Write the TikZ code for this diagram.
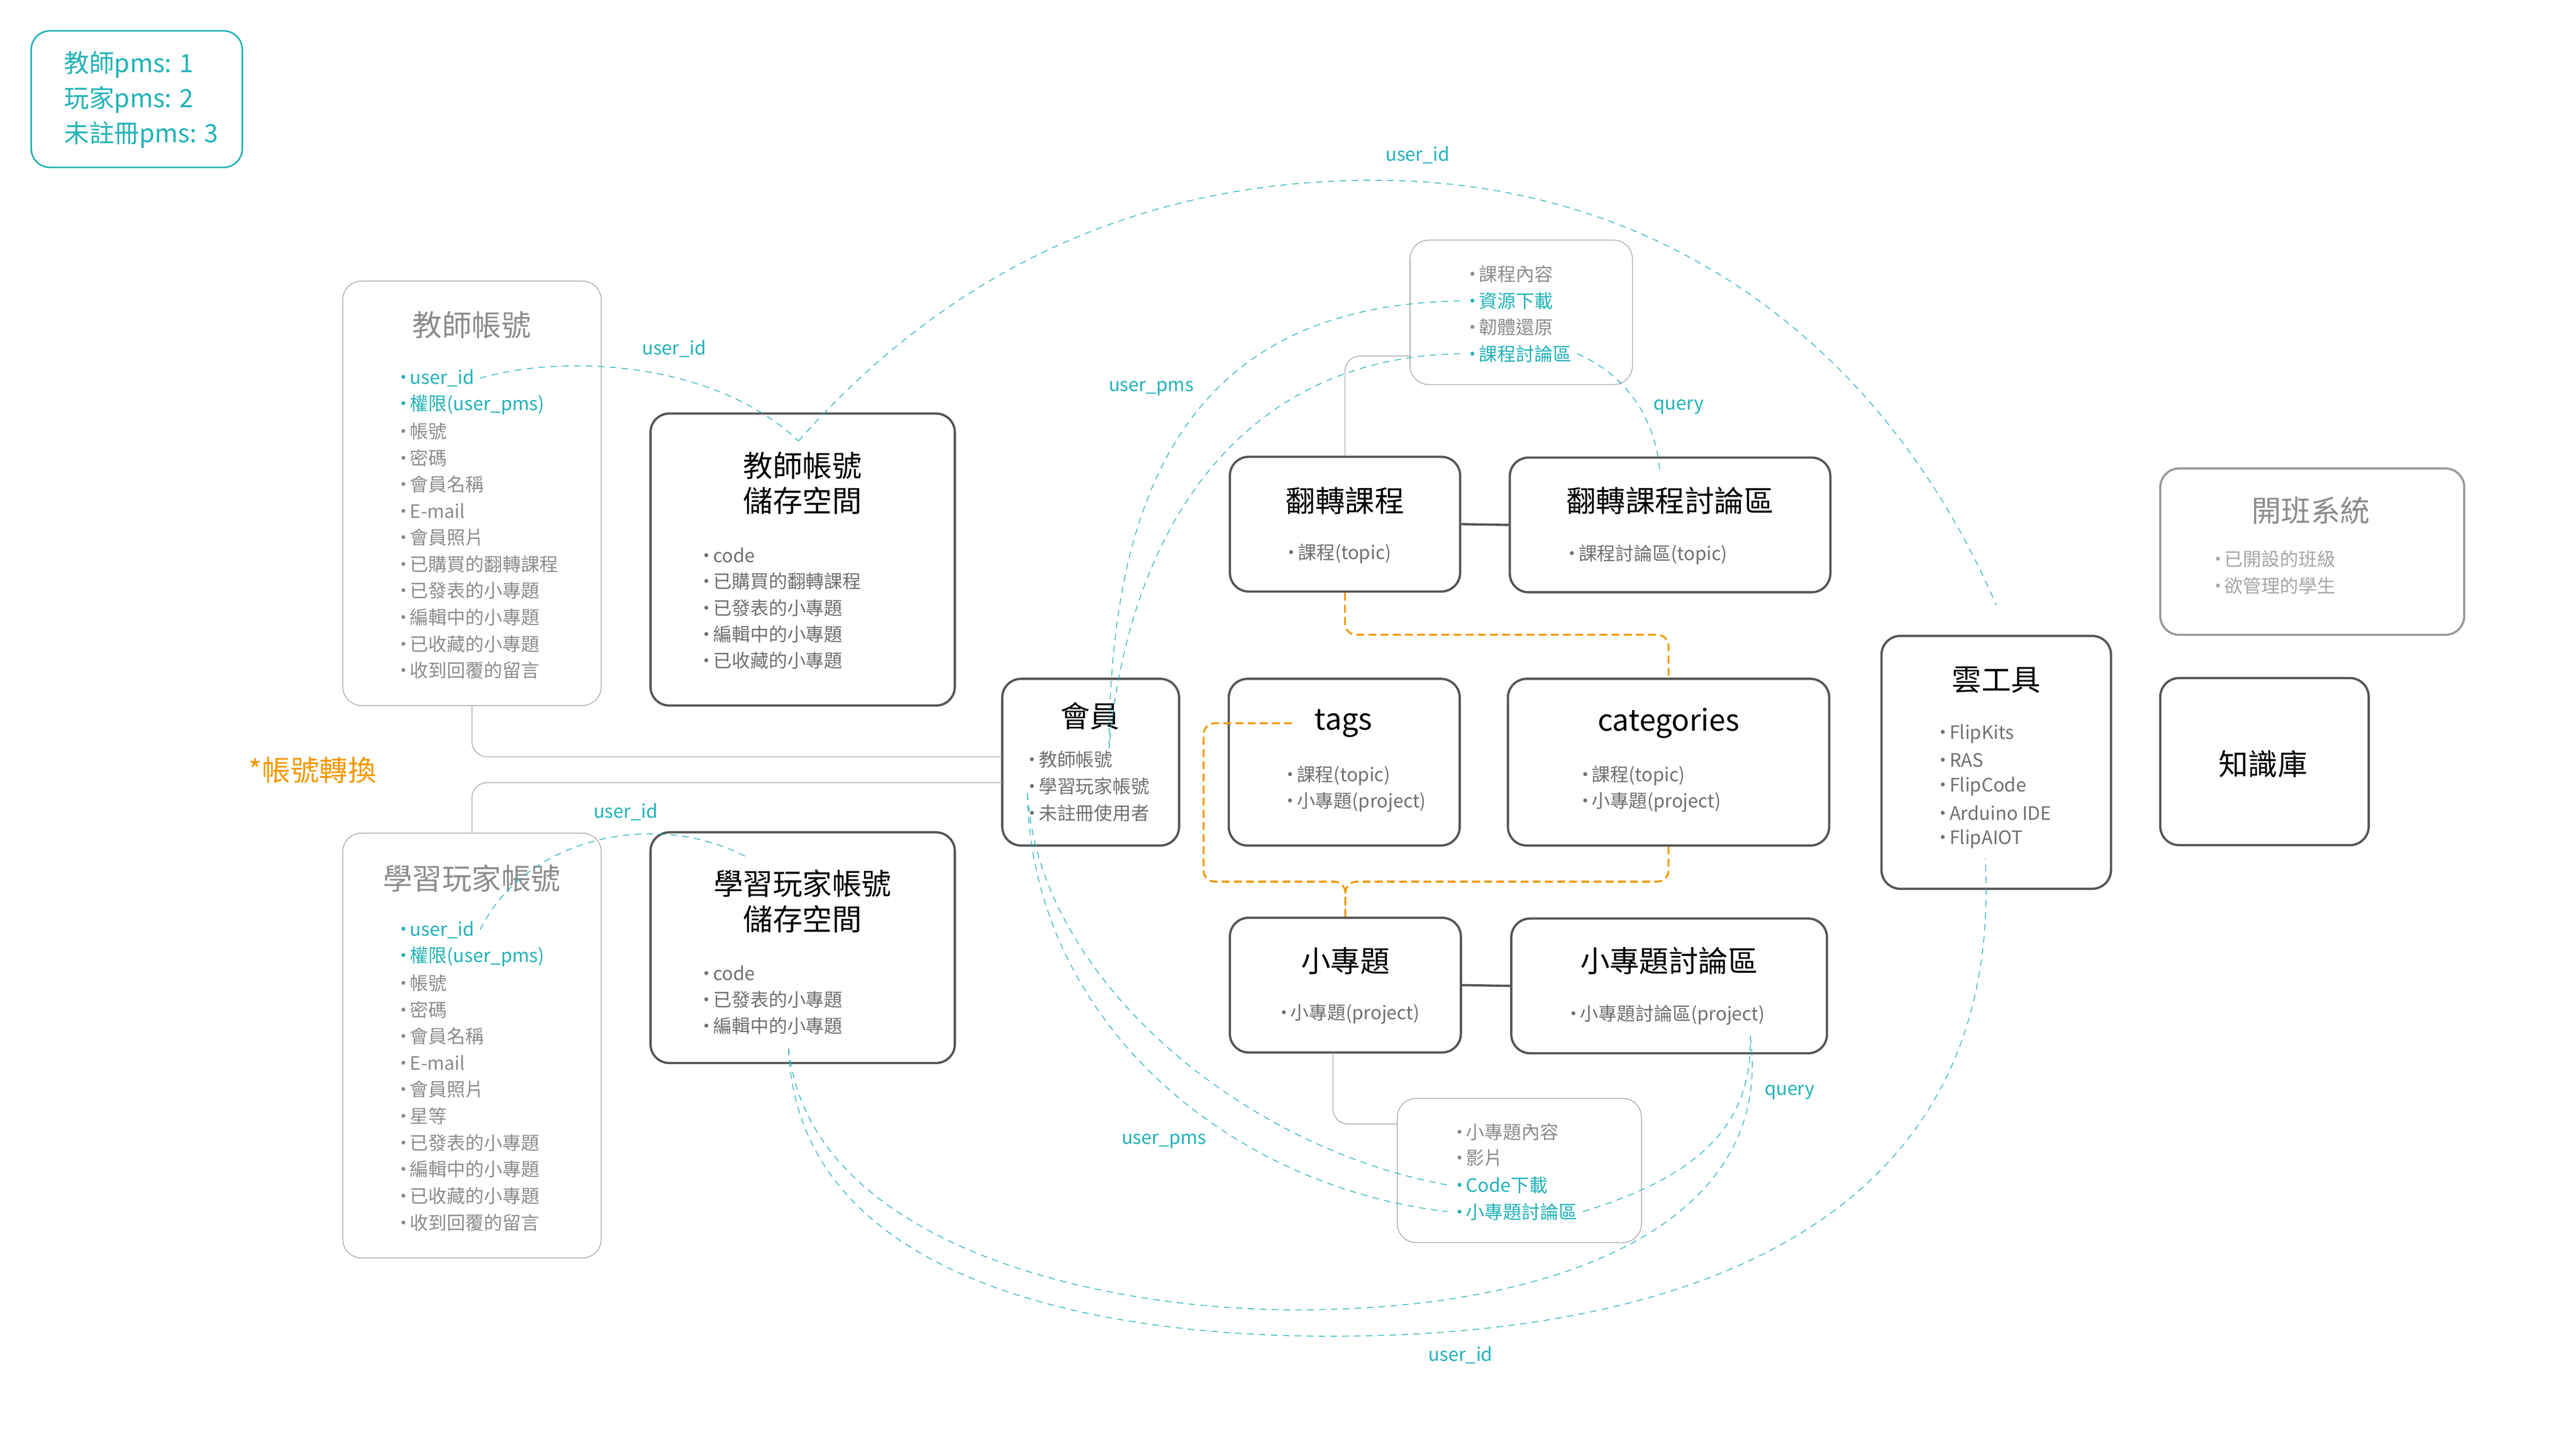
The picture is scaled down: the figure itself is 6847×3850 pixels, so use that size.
\documentclass[tikz,border=0pt]{standalone}
\usepackage{fontspec}
\setmainfont{Noto Sans CJK TC}
\usetikzlibrary{fit, calc}

\definecolor{linkteal}{RGB}{34,178,184}
\definecolor{boxdark}{RGB}{85,85,85}
\definecolor{boxgrey}{RGB}{170,170,170}
\definecolor{itemgrey}{RGB}{112,112,112}
\definecolor{softgrey}{RGB}{140,140,140}
\definecolor{palegrey}{RGB}{166,166,166}
\definecolor{tagorange}{RGB}{243,152,0}

\newcommand{\itemdot}{\makebox[0.7em]{·}}

\tikzset{
	darkbox/.style={draw=boxdark, line width=0.85pt, rounded corners=0.25cm, inner sep=0pt},
	greybox/.style={draw=boxgrey, line width=0.3pt, rounded corners=0.25cm, inner sep=0pt},
	classbox/.style={draw=boxgrey!90!black, line width=0.8pt, rounded corners=0.25cm, inner sep=0pt},
	legendbox/.style={draw=linkteal, line width=0.6pt, rounded corners=0.25cm, inner sep=0pt},
	boxtitle/.style={font=\fontsize{11.2}{13.3}\selectfont, align=center},
	item/.style={font=\fontsize{7}{9}\selectfont, text=itemgrey, anchor=west, inner sep=2pt, xshift=-0.1cm},
	idlabel/.style={font=\fontsize{7}{9}\selectfont, text=linkteal},
	idlink/.style={linkteal, line width=0.28pt, dash pattern=on 2.5pt off 2pt},
	greyline/.style={boxgrey, line width=0.3pt, rounded corners=0.2cm},
	boxline/.style={boxdark, line width=0.85pt},
	tagline/.style={tagorange, line width=0.7pt, dash pattern=on 3pt off 1.6pt, rounded corners=0.15cm}
}

\begin{document}
\begin{tikzpicture}[x=0.005cm, y=-0.005cm]
	\useasboundingbox (0,0) rectangle (6847,3850);

	% legend
	\node[legendbox, fit={(83,82) (644,445)}] (legend) {};
	\node[anchor=west, inner sep=0pt, align=left, text=linkteal, font=\fontsize{9.5}{13.2}\selectfont] (legendText) at (169,265) {教師pms: 1\\玩家pms: 2\\未註冊pms: 3};
	\node[anchor=west, inner sep=0pt, text=tagorange, font=\fontsize{10.8}{12}\selectfont] (switchNote) at (660,2047) {*帳號轉換};

	% teacher account
	\node[greybox, fit={(911,747) (1598,1875)}] (tBox) {};
	\node[boxtitle, text=softgrey] (tTitle) at (1254,864) {教師帳號};
	\node[item, text=linkteal] (tUid) at (1060,1005) {\itemdot user\_id};
	\node[item, text=linkteal] (tPms) at (1060,1076) {\itemdot 權限(user\_pms)};
	\foreach \t [count=\i from 2] in {帳號, 密碼, 會員名稱, E-mail, 會員照片, 已購買的翻轉課程, 已發表的小專題, 編輯中的小專題, 已收藏的小專題, 收到回覆的留言}
		\node[item, text=softgrey] (tItem\i) at (1060,{1005+70.6*\i}) {\itemdot\t};

	\node[darkbox, fit={(1729,1099) (2538,1875)}] (tsBox) {};
	\node[boxtitle] (tsTitle) at (2133,1284) {教師帳號\\儲存空間};
	\foreach \t [count=\i from 0] in {code, 已購買的翻轉課程, 已發表的小專題, 編輯中的小專題, 已收藏的小專題}
		\node[item] (tsItem\i) at (1866,{1475+70*\i}) {\itemdot\t};

	% player account
	\node[greybox, fit={(911,2214) (1598,3343)}] (pBox) {};
	\node[boxtitle, text=softgrey] (pTitle) at (1254,2335) {學習玩家帳號};
	\node[item, text=linkteal] (pUid) at (1060,2471) {\itemdot user\_id};
	\node[item, text=linkteal] (pPms) at (1060,2542) {\itemdot 權限(user\_pms)};
	\foreach \t [count=\i from 2] in {帳號, 密碼, 會員名稱, E-mail, 會員照片, 星等, 已發表的小專題, 編輯中的小專題, 已收藏的小專題, 收到回覆的留言}
		\node[item, text=softgrey] (pItem\i) at (1060,{2471+70.7*\i}) {\itemdot\t};

	\node[darkbox, fit={(1729,2212) (2538,2825)}] (psBox) {};
	\node[boxtitle] (psTitle) at (2133,2395) {學習玩家帳號\\儲存空間};
	\foreach \t [count=\i from 0] in {code, 已發表的小專題, 編輯中的小專題}
		\node[item] (psItem\i) at (1866,{2586+70*\i}) {\itemdot\t};

	% member
	\node[darkbox, fit={(2664,1804) (3134,2247)}] (member) {};
	\node[boxtitle] (mTitle) at (2897,1903) {會員};
	\foreach \t [count=\i from 0] in {教師帳號, 學習玩家帳號, 未註冊使用者}
		\node[item] (mItem\i) at (2731,{2019+71*\i}) {\itemdot\t};

	% course
	\node[greybox, fit={(3748,638) (4339,1022)}] (cBox) {};
	\node[item, text=softgrey] (cContent) at (3901,728) {\itemdot 課程內容};
	\node[item, text=linkteal] (cDl) at (3901,800) {\itemdot 資源下載};
	\node[item, text=softgrey] (cReset) at (3901,869) {\itemdot 韌體還原};
	\node[item, text=linkteal] (cDisc) at (3901,940) {\itemdot 課程討論區};

	\node[darkbox, fit={(3269,1214) (3881,1572)}] (flip) {};
	\node[boxtitle] (flipTitle) at (3575,1331) {翻轉課程};
	\node[item] (flipItem) at (3420,1472) {\itemdot 課程(topic)};
	\node[darkbox, fit={(4013,1216) (4865,1574)}] (flipDisc) {};
	\node[boxtitle] (flipDiscTitle) at (4439,1331) {翻轉課程討論區};
	\node[item] (flipDiscItem) at (4166,1474) {\itemdot 課程討論區(topic)};

	% tags, categories
	\node[darkbox, fit={(3266,1804) (3880,2247)}] (tags) {};
	\node[boxtitle] (tagsTitle) at (3571,1922) {tags};
	\node[item] (tagsItem0) at (3417,2061) {\itemdot 課程(topic)};
	\node[item] (tagsItem1) at (3417,2132) {\itemdot 小專題(project)};
	\node[darkbox, fit={(4008,1804) (4862,2247)}] (cat) {};
	\node[boxtitle] (catTitle) at (4435,1922) {categories};
	\node[item] (catItem0) at (4201,2061) {\itemdot 課程(topic)};
	\node[item] (catItem1) at (4201,2132) {\itemdot 小專題(project)};

	% project
	\node[darkbox, fit={(3269,2439) (3883,2797)}] (proj) {};
	\node[boxtitle] (projTitle) at (3576,2553) {小專題};
	\node[item] (projItem) at (3400,2694) {\itemdot 小專題(project)};
	\node[darkbox, fit={(4017,2441) (4856,2799)}] (projDisc) {};
	\node[boxtitle] (projDiscTitle) at (4436,2553) {小專題討論區};
	\node[item] (projDiscItem) at (4170,2697) {\itemdot 小專題討論區(project)};

	\node[greybox, fit={(3714,2919) (4363,3302)}] (pdBox) {};
	\node[item, text=softgrey] (pContent) at (3867,3008) {\itemdot 小專題內容};
	\node[item, text=softgrey] (pVideo) at (3867,3077) {\itemdot 影片};
	\node[item, text=linkteal] (pCode) at (3867,3149) {\itemdot Code下載};
	\node[item, text=linkteal] (pDisc) at (3867,3220) {\itemdot 小專題討論區};

	% right column
	\node[classbox, fit={(5742,1245) (6550,1687)}] (classSys) {};
	\node[boxtitle, text=softgrey] (classTitle) at (6142,1357) {開班系統};
	\node[item, text=palegrey] (classItem0) at (5883,1486) {\itemdot 已開設的班級};
	\node[item, text=palegrey] (classItem1) at (5883,1556) {\itemdot 欲管理的學生};

	\node[darkbox, fit={(5001,1690) (5611,2362)}] (cloud) {};
	\node[boxtitle] (cloudTitle) at (5306,1807) {雲工具};
	\foreach \t [count=\i from 0] in {FlipKits, RAS, FlipCode, Arduino IDE, FlipAIOT}
		\node[item] (cloudItem\i) at (5152,{1950+70*\i}) {\itemdot\t};

	\node[darkbox, fit={(5742,1802) (6296,2246)}] (know) {};
	\node[boxtitle] (knowTitle) at (6015,2030) {知識庫};

	% link ends
	\coordinate (tsIn) at (2122,1172);
	\coordinate (psIn) at (1989,2280);
	\coordinate (psOut) at (2096,2786);
	\coordinate (mTop) at (2948,1988);
	\coordinate (mLow) at (2731,2108);
	\coordinate (mInT) at (2664,2011);
	\coordinate (mInP) at (2664,2080);
	\coordinate (cIn) at (3748,946);
	\coordinate (pOut) at (3543,2797);
	\coordinate (pIn) at (3714,2987);
	\coordinate (fdIn) at (4411,1247);
	\coordinate (pdIn) at (4652,2752);
	\coordinate (cloudTop) at (5306,1608);
	\coordinate (cloudBot) at (5277,2282);
	\coordinate (oA) at (4000,1687);
	\coordinate (oTag) at (3434,1922);
	\coordinate (oB) at (3199,2343);
	\coordinate (oC) at (4000,2343);

	% solid connectors
	\draw[greyline] (tBox.south) |- (mInT);
	\draw[greyline] (pBox.north) |- (mInP);
	\draw[greyline] (flip.north) |- (cIn);
	\draw[greyline] (pOut) |- (pIn);
	\draw[boxline] (flip.east) -- (flipDisc.west);
	\draw[boxline] (proj.east) -- (projDisc.west);

	% tags
	\draw[tagline] (flip.south) |- (oA) -| (cat.north);
	\draw[tagline] (oTag) -| (oB) -| (proj.north);
	\draw[tagline] (cat.south) |- (oC) -| (proj.north);

	% dashed links
	\draw[idlink] (tUid.east) .. controls (1500,940) and (1900,960) .. (tsIn);
	\draw[idlink] (tsIn) .. controls (2426,830) and (2900,479) .. (3653,479) .. controls (4400,479) and (5000,900) .. (cloudTop);
	\draw[idlink] (cDl.west) .. controls (3200,810) and (2950,1250) .. (mTop);
	\draw[idlink] (cDisc.west) .. controls (3300,950) and (3000,1400) .. (mTop);
	\draw[idlink] (cDisc.east) .. controls (4330,1000) and (4400,1120) .. (fdIn);
	\draw[idlink] (mLow) .. controls (2760,2600) and (3300,3050) .. (pCode.west);
	\draw[idlink] (mLow) .. controls (2740,2700) and (3250,3150) .. (pDisc.west);
	\draw[idlink] (pDisc.east) .. controls (4500,3130) and (4660,3000) .. (pdIn);
	\draw[idlink] (pUid.east) .. controls (1400,2220) and (1750,2150) .. (psIn);
	\draw[idlink] (psOut) .. controls (2150,3300) and (2900,3481) .. (3446,3481) .. controls (4150,3481) and (4720,3250) .. (pdIn);
	\draw[idlink] (psOut) .. controls (2120,3400) and (2900,3551) .. (3538,3551) .. controls (4400,3551) and (5330,3300) .. (cloudBot);

	% link labels
	\node[idlabel] (lblTopId) at (3768,412) {user\_id};
	\node[idlabel] (lblTId) at (1792,927) {user\_id};
	\node[idlabel] (lblUpPms) at (3060,1032) {user\_pms};
	\node[idlabel] (lblUpQ) at (4462,1081) {query};
	\node[idlabel] (lblPId) at (1663,2158) {user\_id};
	\node[idlabel] (lblLowPms) at (3094,3033) {user\_pms};
	\node[idlabel] (lblLowQ) at (4757,2903) {query};
	\node[idlabel] (lblBotId) at (3882,3601) {user\_id};
\end{tikzpicture}
\end{document}
